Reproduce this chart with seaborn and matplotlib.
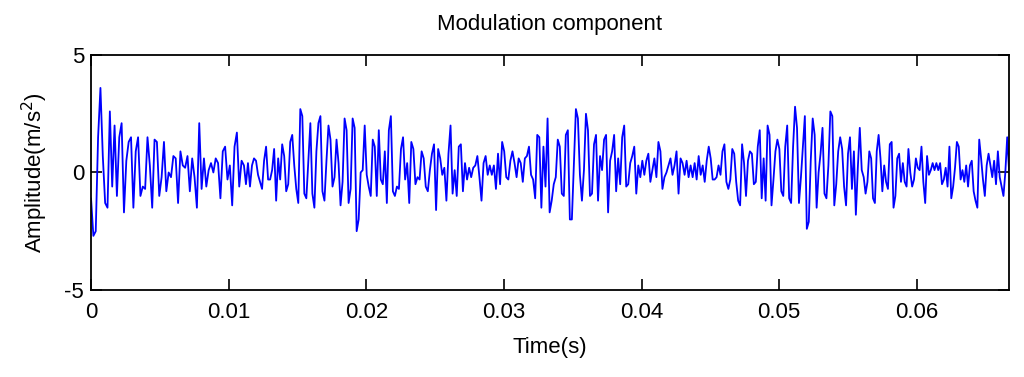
import numpy as np
import pandas as pd
import seaborn as sns
import matplotlib
matplotlib.use('Agg')
import matplotlib.pyplot as plt

# amplitude readings (m/s^2), one list per stretch of the time axis
seg1 = [-1.1, -2.7, -2.5, 1.5, 3.6, 0.7, -1.3, -1.5, 2.6, -0.6, 2.0, -1.0, 1.5, 2.1, -1.7, 0.5,
        1.3, 1.5, -1.5, 0.9, 1.5, -1.0, -0.6, -0.7, 1.5, 0.3, -1.5, 1.4, 1.3, -1.0, -0.2, 1.3,
        -0.8, 0.0, -0.2, 0.7, 0.6, -1.3, 0.9, 0.3, 0.2, 0.7, -0.8, 0.6, -0.2, -1.5, 2.1, -0.7,
        0.6, -0.6, 0.1, 0.4, 0.0, 0.6, 0.4, -1.1, 0.9, 1.1, -0.3, 0.3, -1.4, 1.1, 1.7, -0.6, 0.5]
seg2 = [0.3, -0.5, 0.4, -0.6, 0.3, 0.6, 0.5, -0.1, -0.4, -0.7, 0.5, 1.1, -0.3, -0.3, 0.1, 1.0,
        -1.2, 0.6, -0.3, 1.2, 0.7, -0.8, -0.5, 1.3, 1.6, 0.3, -0.7, -1.3, 2.7, 2.4, -0.9, -1.1,
        0.5, 2.1, -0.9, -1.5, 0.9, 2.1, 2.4, -0.8, -1.2, 0.5, 2.0, 1.4, -0.6, -0.2, 1.4, 0.4,
        -1.4, -0.4, 2.3, 1.8, -1.3, -0.7, 2.3, 1.9, -2.5, -2.0, 0.0, 0.1, 2.0, -0.1, -0.6, -1.0,
        1.4, 1.1, -1.0, 1.8, -0.3, -0.5, 0.9, -1.3, 1.8, 2.4, -0.8, -1.0, -0.6]
seg3 = [-0.7, 1.0, 1.5, -0.3, 0.4, -1.3, 1.3, 1.0, -0.5, -0.2, -0.3, 0.9, 0.6, -0.6, -0.8, 0.1,
        0.8, 1.2, -1.6, 1.0, 0.6, -0.1, 0.2, -1.2, 0.8, 2.0, -0.9, 0.1, -1.0, 1.1, 1.2, -0.8,
        0.4, -0.3, 0.2, -0.2, 0.2, 0.3, 0.7, -0.2, -1.2, 0.4, 0.7, -0.1, 0.3, -0.1, 0.3, -0.7,
        0.8, -0.5, 1.3, 0.9, -0.2, -0.3, 0.5, 0.9, 0.4, -0.2, 0.6, 0.4, -0.4, 0.6, 0.7, 1.1,
        -0.1, -0.3, -1.1, 1.6, 1.5, -1.5, 1.1, -0.6, 2.3, -1.7, -1.2]
seg4 = [-0.5, -0.2, 1.4, 1.1, -0.9, -1.0, 1.6, 1.8, -2.0, -2.0, 0.3, 2.7, 2.3, -0.1, -1.2, 0.1,
        2.5, 1.8, -1.0, -0.9, 1.2, 1.6, -1.2, 0.7, 0.1, 1.4, 1.6, -1.7, 0.5, 0.9, 1.6, -0.8,
        0.6, -0.5, 1.5, 2.0, -0.6, -0.5, 0.4, 0.7, 1.1, -0.9, 0.3, -0.2, 0.5, -0.1, 0.5, 0.8,
        -0.4, 0.1, 0.6, -0.2, 1.3, 0.9, -0.7, -0.2, 0.0, 0.3, 0.6, -0.1, 0.3, 0.9, -0.9, 0.6,
        0.4, -0.1, 0.5, -0.2, 0.3, -0.2, 0.4, -0.3, 0.7, -0.1, 0.3, -0.4, 0.5]
seg5 = [1.1, 0.6, -0.3, -0.3, -0.2, 0.3, -0.1, 0.9, 1.2, -0.4, -0.7, -0.3, 1.0, 0.8, -0.4, -1.2,
        -1.4, 1.2, 0.4, -1.0, 0.5, 0.9, 0.8, -0.5, -0.4, 1.1, 1.8, -1.1, 0.6, -1.2, 2.0, 1.6,
        -1.4, -0.3, 0.9, 1.4, 1.0, -0.8, -1.0, 1.1, 2.0, -1.1, -1.3, 1.1, 2.8, 1.9, -1.3, -0.2,
        1.1, 2.4, -2.4, -2.1, 0.5, 2.3, 1.6, -1.5, 0.0, 0.8, 1.9, -0.9, -1.1, 0.3, 2.6, 2.4,
        -1.4, -0.5, 0.9, 1.5, 1.0, -0.6, -1.4, 0.8, 1.5, -0.7, 0.9, -1.8, 0.2, 1.9, 0.1]
seg6 = [-0.2, -0.9, -0.4, 0.9, 0.6, -1.1, -1.3, 0.9, 1.6, 0.6, -0.8, 0.3, -0.4, -0.7, 1.2, 1.3,
        -1.5, -1.0, 0.6, 0.8, -0.4, 0.4, -0.4, -0.6, 1.0, 0.0, -0.6, -0.3, 0.6, 0.2, 0.1, 1.1,
        -0.4, -1.3, 0.7, -0.1, 0.1, 0.4, 0.1, 0.4, 0.1, 0.4, -0.5, -0.3, 0.2, -0.6, 1.1, -1.1,
        -0.6, 0.2, 1.3, 1.1, -0.3, 0.1, -0.4, 0.3, -0.6, 0.3, 0.5, -0.8, -1.2, -1.5, 1.4, 0.6,
        -0.3, -1.0, 0.3, 0.8, 0.3, -0.2, 0.5, -0.5, 0.9, -0.2, -0.6, -1.0, 0.0, 1.5, 0.1]

# time span (s) covered by each list
seg_edges = [0.0, 0.01111, 0.02237, 0.03362, 0.04488, 0.05614, 0.0667]

segments = [seg1, seg2, seg3, seg4, seg5, seg6]
times = []
for i, seg in enumerate(segments):
    last = i == len(segments) - 1
    times.append(np.linspace(seg_edges[i], seg_edges[i + 1], len(seg), endpoint=last))
df = pd.DataFrame({'Time': np.concatenate(times), 'Amplitude': np.concatenate(segments)})

sns.set_style('white')
plt.rcParams['font.family'] = ['Liberation Sans Narrow', 'Liberation Sans', 'DejaVu Sans']
plt.rcParams['axes.unicode_minus'] = False
plt.rcParams['text.color'] = 'black'
plt.rcParams['axes.labelcolor'] = 'black'

fig = plt.figure(figsize=(10.24, 3.77), dpi=100)
ax = fig.add_axes([0.0889, 0.231, 0.8965, 0.623])
sns.lineplot(data=df, x='Time', y='Amplitude', color='#0000ff', lw=1.3, ax=ax)

ax.set_xlim(0, 0.0667)
ax.set_ylim(-5, 5)
ax.set_xticks([0, 0.01, 0.02, 0.03, 0.04, 0.05, 0.06])
ax.set_xticklabels(['0', '0.01', '0.02', '0.03', '0.04', '0.05', '0.06'])
ax.set_yticks([-5, 0, 5])
ax.tick_params(direction='in', length=8, width=1.2, labelsize=16, top=True, right=True,
               bottom=True, left=True, colors='black')
ax.tick_params(axis='x', pad=9)
ax.tick_params(axis='y', pad=5)
for s in ax.spines.values():
    s.set_visible(True)
    s.set_color('black')
    s.set_linewidth(1.3)
ax.set_title('Modulation component', fontsize=16, pad=18)
ax.set_xlabel('Time(s)', fontsize=16, labelpad=10)
ax.set_ylabel('Amplitude(m/s$^2$)', fontsize=16, labelpad=10)

fig.savefig('out.png', dpi=100)
